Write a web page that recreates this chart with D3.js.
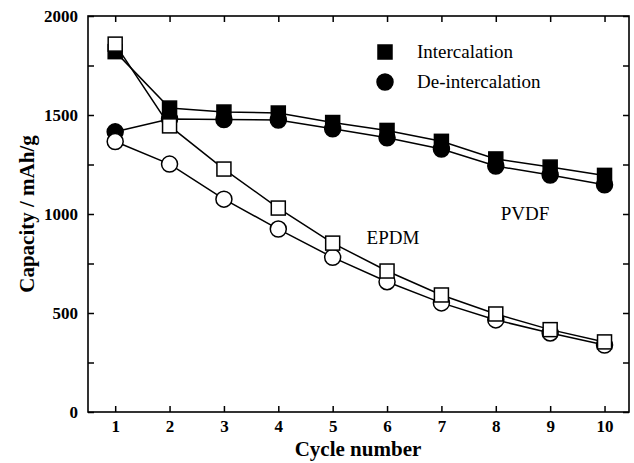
<!DOCTYPE html>
<html>
<head>
<meta charset="utf-8">
<script src="https://cdn.jsdelivr.net/npm/d3@7"></script>
<style>
  body { margin: 0; background: #fff; }
  text { font-family: "Liberation Serif", "Times New Roman", serif; fill: #000; }
</style>
</head>
<body>
<script>
var cycles = [1, 2, 3, 4, 5, 6, 7, 8, 9, 10];
var pvdfIn = [1820, 1535, 1515, 1510, 1462, 1422, 1367, 1278, 1237, 1195];
var pvdfDe = [1415, 1480, 1477, 1475, 1430, 1385, 1328, 1242, 1197, 1148];
var epdmIn = [1858, 1445, 1227, 1030, 853, 712, 591, 495, 416, 354];
var epdmDe = [1366, 1252, 1075, 924, 781, 658, 551, 465, 399, 338];
var yTicks = [0, 500, 1000, 1500, 2000];
var yMinor = [250, 750, 1250, 1750];

var W = 634, H = 463;
var svg = d3.select("body").append("svg")
    .attr("width", W)
    .attr("height", H);

var mLeft = 88, mRight = 629, mTop = 16, mBottom = 412;

var x = d3.scaleLinear().domain([0.5, 10.45]).range([mLeft, mRight]);
var y = d3.scaleLinear().domain([0, 2000]).range([mBottom, mTop]);

// frame
svg.append("rect")
    .attr("x", mLeft).attr("y", mTop)
    .attr("width", mRight - mLeft).attr("height", mBottom - mTop)
    .attr("fill", "none").attr("stroke", "#000").attr("stroke-width", 1.6);

// ticks (inward) on all four sides
var tk = 6;
svg.append("g").attr("transform", "translate(0," + mBottom + ")")
    .call(d3.axisBottom(x).tickValues(cycles).tickSize(-tk).tickPadding(8).tickFormat(d3.format("d")))
    .call(function (g) { g.select(".domain").remove(); });
svg.append("g").attr("transform", "translate(0," + mTop + ")")
    .call(d3.axisTop(x).tickValues(cycles).tickSize(-tk).tickFormat(""))
    .call(function (g) { g.select(".domain").remove(); });
svg.append("g").attr("transform", "translate(" + mLeft + ",0)")
    .call(d3.axisLeft(y).tickValues(yTicks).tickSize(-tk).tickPadding(10).tickFormat(d3.format("d")))
    .call(function (g) { g.select(".domain").remove(); });
svg.append("g").attr("transform", "translate(" + mLeft + ",0)")
    .call(d3.axisLeft(y).tickValues(yMinor).tickSize(-tk).tickFormat(""))
    .call(function (g) { g.select(".domain").remove(); });
svg.append("g").attr("transform", "translate(" + mRight + ",0)")
    .call(d3.axisRight(y).tickValues(yTicks.concat(yMinor)).tickSize(-tk).tickFormat(""))
    .call(function (g) { g.select(".domain").remove(); });

svg.selectAll(".tick line").attr("stroke", "#000").attr("stroke-width", 1.5);
svg.selectAll(".tick text")
    .attr("fill", "#000")
    .style("font-family", "'Liberation Serif', serif")
    .style("font-weight", "bold")
    .style("font-size", "17px");

// axis titles
svg.append("text")
    .attr("x", 358).attr("y", 456)
    .attr("text-anchor", "middle")
    .style("font-weight", "bold").style("font-size", "21px")
    .text("Cycle number");
svg.append("text")
    .attr("transform", "translate(34,214) rotate(-90)")
    .attr("text-anchor", "middle")
    .style("font-weight", "bold").style("font-size", "21px")
    .text("Capacity / mAh/g");

// series
var line = d3.line()
    .x(function (d, i) { return x(cycles[i]); })
    .y(function (d) { return y(d); });

var series = [
    { vals: pvdfDe, shape: "circle", fill: "#000" },
    { vals: pvdfIn, shape: "square", fill: "#000" },
    { vals: epdmDe, shape: "circle", fill: "#fff" },
    { vals: epdmIn, shape: "square", fill: "#fff" }
];

series.forEach(function (s) {
    svg.append("path")
        .attr("d", line(s.vals))
        .attr("fill", "none")
        .attr("stroke", "#000")
        .attr("stroke-width", 1.5);
});

var sq = 14, rad = 8;
function drawMarker(g, shape, fill, cx, cy) {
    if (shape === "square") {
        g.append("rect")
            .attr("x", cx - sq / 2).attr("y", cy - sq / 2)
            .attr("width", sq).attr("height", sq)
            .attr("fill", fill).attr("stroke", "#000").attr("stroke-width", 1.5);
    } else {
        g.append("circle")
            .attr("cx", cx).attr("cy", cy).attr("r", rad)
            .attr("fill", fill).attr("stroke", "#000").attr("stroke-width", 1.5);
    }
}

series.forEach(function (s) {
    var g = svg.append("g");
    s.vals.forEach(function (v, i) {
        drawMarker(g, s.shape, s.fill, x(cycles[i]), y(v));
    });
});

// legend
var lg = svg.append("g");
drawMarker(lg, "square", "#000", 385, 52);
drawMarker(lg, "circle", "#000", 385, 82);
lg.append("text").attr("x", 417).attr("y", 58).style("font-size", "19px").text("Intercalation");
lg.append("text").attr("x", 417).attr("y", 88).style("font-size", "19px").text("De-intercalation");

// labels
svg.append("text").attr("x", 393).attr("y", 244).attr("text-anchor", "middle")
    .style("font-size", "19px").text("EPDM");
svg.append("text").attr("x", 525).attr("y", 220).attr("text-anchor", "middle")
    .style("font-size", "19px").text("PVDF");
</script>
</body>
</html>
